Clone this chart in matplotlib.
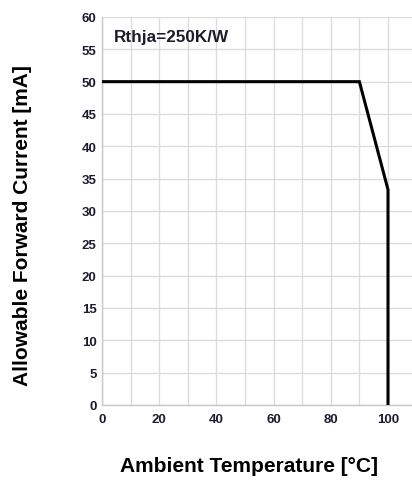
import matplotlib
matplotlib.use("Agg")
import matplotlib.pyplot as plt

# derating curve
temp_c = [0, 90, 100, 100]
current_ma = [50, 50, 33.3, 0]

x_ticks = [0, 20, 40, 60, 80, 100]
y_ticks = list(range(0, 61, 5))
x_grid = list(range(0, 101, 10))

plt.rcParams['font.family'] = ['Liberation Sans', 'DejaVu Sans']

fig = plt.figure(figsize=(4.12, 4.81), dpi=100)
ax = fig.add_axes([102 / 412, 75 / 481, 310 / 412, 388 / 481])

for xg in x_grid:
    ax.axvline(xg, color='#dcdcdc', linewidth=1, zorder=0)
for yg in y_ticks:
    ax.axhline(yg, color='#dcdcdc', linewidth=1, zorder=0)

ax.plot(temp_c, current_ma, color='black', linewidth=2.2, zorder=3,
        solid_joinstyle='miter')

ax.set_xlim(0, 310 / 2.86)
ax.set_ylim(0, 60)
ax.set_xticks(x_ticks)
ax.set_yticks(y_ticks)
ax.tick_params(length=0, labelsize=9.5, colors='#1c1c30')
ax.tick_params(axis='y', pad=4)
ax.tick_params(axis='x', pad=6)
for lab in ax.get_xticklabels() + ax.get_yticklabels():
    lab.set_fontweight('bold')

for side in ['top', 'right']:
    ax.spines[side].set_visible(False)
for side in ['left', 'bottom']:
    ax.spines[side].set_color('#c8c8c8')
    ax.spines[side].set_linewidth(1)

ax.text(4, 57.0, 'Rthja=250K/W', fontsize=12.3, fontweight='bold',
        color='#1c1c2c', va='center', ha='left')

fig.text(248.5 / 412, 1 - 467 / 481, 'Ambient Temperature [°C]', fontsize=15,
         fontweight='bold', ha='center', va='center')
fig.text(23 / 412, 1 - 226 / 481, 'Allowable Forward Current [mA]', fontsize=15,
         fontweight='bold', ha='center', va='center', rotation=90)

fig.savefig('out.png', dpi=100)
